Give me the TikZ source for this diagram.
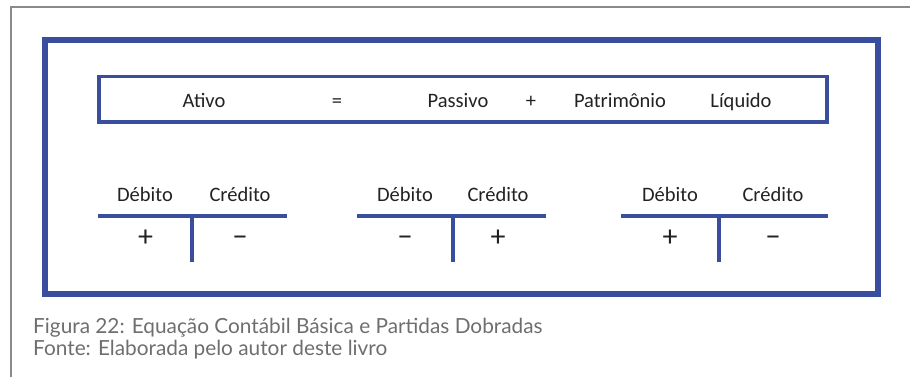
\documentclass[tikz,border=0pt]{standalone}
\usepackage{fontspec}
\setmainfont{Carlito}
\newfontfamily\captionfont{Lato}
\usetikzlibrary{positioning}

\definecolor{frameblue}{RGB}{58,78,158}
\definecolor{framegray}{RGB}{138,138,138}
\definecolor{captiongray}{RGB}{110,110,110}
\definecolor{textdark}{RGB}{34,34,34}

\begin{document}
\begin{tikzpicture}[
        x=1pt, y=-1pt,
        outerbox/.style={
                rectangle,
                draw=frameblue,
                line width=6pt,
                inner sep=0pt,
                minimum width=833.5pt,
                minimum height=254pt
            },
        eqbox/.style={
                rectangle,
                draw=frameblue,
                line width=3.5pt,
                inner sep=0pt,
                minimum width=728pt,
                minimum height=45.5pt
            },
        term/.style={
                anchor=base,
                inner sep=0pt,
                text=textdark,
                font=\fontsize{20.5}{24}\selectfont
            },
        sign/.style={
                anchor=base,
                inner sep=0pt,
                text=textdark,
                font=\fontsize{30}{34}\selectfont
            },
        tline/.style={draw=frameblue, line width=4pt},
        caption/.style={
                anchor=base west,
                inner sep=0pt,
                text=captiongray,
                font=\captionfont\fontsize{20.8}{24}\selectfont
            }
    ]
    \useasboundingbox (0,0) rectangle (910,377);

    % page frame
    \draw[framegray, line width=2pt] (11,377) -- (11,7) -- (910,7);

    \node[outerbox] (outer) at (461.25,167) {};
    \node[eqbox] (equation) at (463,99.25) {};

    % equation
    \node[term] (ativo)   at (204,108) {Ativo};
    \node[term] (equals)  at (337,108) {=};
    \node[term] (passivo) at (458,108) {Passivo};
    \node[term] (plus)    at (531,108) {+};
    \node[term] (patrim)  at (620,108) {Patrimônio};
    \node[term] (liquido) at (741,108) {Líquido};

    % T-accounts
    \node[term] (deb1) at (145,201) {Débito};
    \node[term] (cred1) at (240,201) {Crédito};
    \node[sign] (deb1sign) at (145.5,246) {+};
    \node[sign] (cred1sign) at (240,246) {−};
    \coordinate (t1left) at (98,216);
    \coordinate (t1right) at (287,216);
    \coordinate (t1top) at (192,216);
    \coordinate (t1bottom) at (192,262);

    \node[term] (deb2) at (405,201) {Débito};
    \node[term] (cred2) at (498,201) {Crédito};
    \node[sign] (deb2sign) at (405,246) {−};
    \node[sign] (cred2sign) at (498,246) {+};
    \coordinate (t2left) at (357,216);
    \coordinate (t2right) at (546,216);
    \coordinate (t2top) at (453,216);
    \coordinate (t2bottom) at (453,262);

    \node[term] (deb3) at (670,201) {Débito};
    \node[term] (cred3) at (773,201) {Crédito};
    \node[sign] (deb3sign) at (670,246) {+};
    \node[sign] (cred3sign) at (773,246) {−};
    \coordinate (t3left) at (621,216);
    \coordinate (t3right) at (828,216);
    \coordinate (t3top) at (719,216);
    \coordinate (t3bottom) at (719,262);

    \path[tline] (t1left) -- (t1right);
    \path[tline] (t1top) -- (t1bottom);
    \path[tline] (t2left) -- (t2right);
    \path[tline] (t2top) -- (t2bottom);
    \path[tline] (t3left) -- (t3right);
    \path[tline] (t3top) -- (t3bottom);

    % caption
    \node[caption] (figcaption) at (33,333) {Figura 22: Equação Contábil Básica e Partidas Dobradas};
    \node[caption] (figsource)  at (33,355) {Fonte: Elaborada pelo autor deste livro};
\end{tikzpicture}
\end{document}
